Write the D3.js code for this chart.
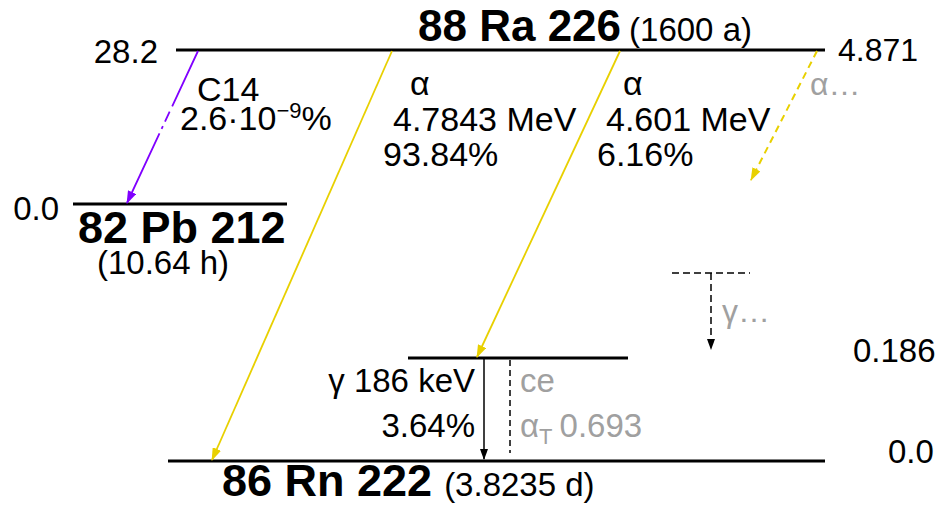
<!DOCTYPE html>
<html>
<head>
<meta charset="utf-8">
<script src="https://cdn.jsdelivr.net/npm/d3@7"></script>
<style>
  html, body { margin: 0; padding: 0; background: #fff; }
  svg text { font-family: "Liberation Sans", Arial, sans-serif; }
</style>
</head>
<body>
<svg id="chart" width="939" height="510"></svg>
<script>
// nuclides and their half-lives
var nuclides = ['88 Ra 226', '82 Pb 212', '86 Rn 222']
var halfLives = ['1600 a', '10.64 h', '3.8235 d']

// energy levels (MeV)
var levelIds = ['ra', 'pb', 'rn186', 'rn0']
var levelNuclide = [0, 1, 2, 2]
var levelEnergies = ['28.2', '0.0', '0.186', '0.0']
var qAlpha = '4.871'

// decay branches out of Ra 226
var decayModes = ['C14', 'α', 'α', 'α…']
var decayTo = ['pb', 'rn0', 'rn186', null]
var decayEnergies = [null, '4.7843 MeV', '4.601 MeV', null]
var decayIntensities = ['2.6·10', '93.84%', '6.16%', null]

// gamma transitions in Rn 222
var gammaEnergies = ['186 keV']
var gammaIntensities = ['3.64%']
var gammaAlphaT = ['0.693']

;(function (d3) {
  var svg = d3.select('#chart')
  var YELLOW = '#e8d000'
  var PURPLE = '#8000ff'
  var GREY = '#a0a0a0'

  // vertical placement of levels (schematic, not to scale)
  var y = d3.scaleOrdinal()
    .domain(levelIds.concat(['other']))
    .range([50, 204, 358, 461, 273])

  var levelX = {
    ra: [176, 825],
    pb: [73, 287],
    rn186: [408, 628],
    rn0: [168, 825]
  }

  // arrow heads
  var defs = svg.append('defs')
  ;[['yellow', YELLOW, 13, 9], ['purple', PURPLE, 13, 9], ['black', '#000', 11, 8]].forEach(function (m) {
    defs.append('marker')
      .attr('id', 'head-' + m[0])
      .attr('viewBox', '0 0 ' + m[2] + ' ' + m[3])
      .attr('refX', m[2] - 1)
      .attr('refY', m[3] / 2)
      .attr('markerWidth', m[2])
      .attr('markerHeight', m[3])
      .attr('markerUnits', 'userSpaceOnUse')
      .attr('orient', 'auto')
      .append('path')
      .attr('d', 'M0,0L' + m[2] + ',' + m[3] / 2 + 'L0,' + m[3] + 'Z')
      .attr('fill', m[1])
  })

  // levels
  svg.selectAll('line.level')
    .data(levelIds)
    .enter()
    .append('line')
    .attr('class', 'level')
    .attr('x1', function (d) { return levelX[d][0] })
    .attr('x2', function (d) { return levelX[d][1] })
    .attr('y1', function (d) { return y(d) })
    .attr('y2', function (d) { return y(d) })
    .attr('stroke', '#000')
    .attr('stroke-width', 3)

  function text (x, yy, str, opts) {
    opts = opts || {}
    return svg.append('text')
      .attr('x', x)
      .attr('y', yy)
      .attr('font-size', opts.size || 34)
      .attr('font-weight', opts.bold ? 'bold' : null)
      .attr('text-anchor', opts.anchor || 'start')
      .attr('fill', opts.color || '#000')
      .text(str)
  }

  // energy labels
  text(158, y('ra') + 13, levelEnergies[0], {anchor: 'end', size: 33})
  text(838, y('ra') + 11, qAlpha, {size: 32})
  text(59, y('pb') + 16, levelEnergies[1], {anchor: 'end', size: 33})
  text(853, y('rn186') + 4, levelEnergies[2], {size: 33})
  text(888, y('rn0') + 2, levelEnergies[3], {size: 33})

  // nuclide names
  var ra = text(418, 41, nuclides[0], {size: 44, bold: true})
  ra.append('tspan').attr('font-size', 33).attr('font-weight', 'normal').attr('dx', 8).text('(' + halfLives[0] + ')')
  text(78, 243, nuclides[1], {size: 45, bold: true})
  text(163, 274, '(' + halfLives[1] + ')', {size: 33, anchor: 'middle'})
  var rn = text(222, 496, nuclides[2], {size: 45, bold: true})
  rn.append('tspan').attr('font-size', 33).attr('font-weight', 'normal').attr('dx', 12).text('(' + halfLives[2] + ')')

  // decay branches
  var branchX = [[198, 127], [392, 212], [620, 477], [817, 751]]
  decayModes.forEach(function (mode, i) {
    var x0 = branchX[i][0]
    var x1 = branchX[i][1]
    var y0 = y('ra') + 1
    var y1 = decayTo[i] ? y(decayTo[i]) - 1 : 180
    var color = i === 0 ? PURPLE : YELLOW
    var ln = svg.append('line')
      .attr('x1', x0).attr('y1', y0)
      .attr('x2', x1).attr('y2', y1)
      .attr('stroke', color)
      .attr('stroke-width', 1.8)
      .attr('marker-end', 'url(#head-' + (i === 0 ? 'purple' : 'yellow') + ')')
    if (i === 0) ln.attr('stroke-dasharray', '61,6,11,5,3,5,300,0')
    if (!decayTo[i]) ln.attr('stroke-dasharray', '7,5').attr('stroke-width', 2)
  })

  // branch labels
  text(197, 101, decayModes[0])
  var c14 = text(180, 130, decayIntensities[0])
  c14.append('tspan').attr('font-size', 22).attr('dy', -12).text('−9')
  c14.append('tspan').attr('dy', 12).text('%')

  text(410, 95, decayModes[1])
  text(393, 131, decayEnergies[1])
  text(383, 166, decayIntensities[1])

  text(623, 95, decayModes[2])
  text(606, 131, decayEnergies[2])
  text(597, 166, decayIntensities[2])

  text(810, 95, decayModes[3], {color: GREY, size: 32})

  // gamma 186 keV
  var gx = 484
  svg.append('line')
    .attr('x1', gx).attr('y1', y('rn186') + 1)
    .attr('x2', gx).attr('y2', y('rn0') - 2)
    .attr('stroke', '#000')
    .attr('stroke-width', 1.5)
    .attr('marker-end', 'url(#head-black)')
  svg.append('line')
    .attr('x1', 510).attr('y1', y('rn186') + 2)
    .attr('x2', 510).attr('y2', y('rn0') - 8)
    .attr('stroke', '#000')
    .attr('stroke-width', 1.5)
    .attr('stroke-dasharray', '6,4')

  text(475, 392, 'γ ' + gammaEnergies[0], {anchor: 'end', size: 33})
  text(475, 437, gammaIntensities[0], {anchor: 'end', size: 33})
  text(520, 392, 'ce', {color: GREY, size: 33})
  var at = text(520, 437, 'α', {color: GREY, size: 33})
  at.append('tspan').attr('font-size', 22).attr('dy', 7).text('T')
  at.append('tspan').attr('dy', -7).attr('dx', 7).text(gammaAlphaT[0])

  // other gammas
  svg.append('line')
    .attr('x1', 672).attr('x2', 750)
    .attr('y1', y('other')).attr('y2', y('other'))
    .attr('stroke', '#000')
    .attr('stroke-width', 1.5)
    .attr('stroke-dasharray', '7,4')
  svg.append('line')
    .attr('x1', 711).attr('x2', 711)
    .attr('y1', y('other')).attr('y2', 349)
    .attr('stroke', '#000')
    .attr('stroke-width', 1.5)
    .attr('stroke-dasharray', '7,4')
    .attr('marker-end', 'url(#head-black)')
  text(722, 322, 'γ…', {color: GREY, size: 32})
})(window.d3)
</script>
</body>
</html>
